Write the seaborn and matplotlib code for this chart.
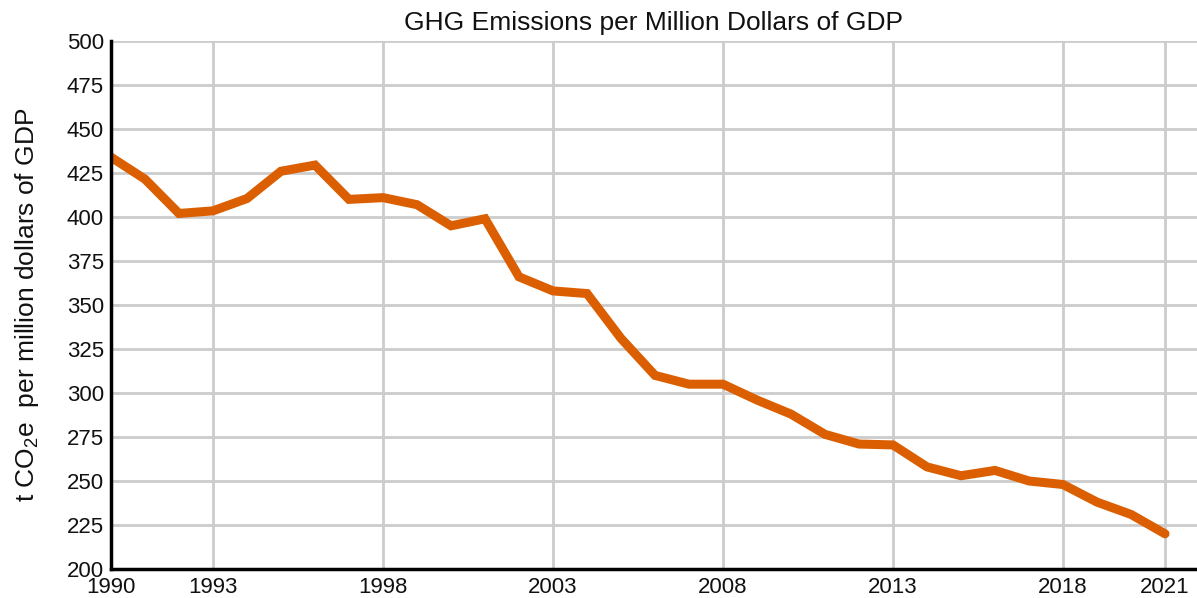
import matplotlib
matplotlib.use("Agg")
import matplotlib.pyplot as plt
import seaborn as sns
import pandas as pd

years = list(range(1990, 2022))
emissions = [434, 421.5, 402, 403.5, 410.5, 426, 429.5, 410, 411, 407, 395, 399,
             366, 358, 356.5, 331, 310, 305, 305, 296, 288, 276.5, 271, 270.5,
             258, 253, 256, 250, 248, 238, 231, 220]
xticks = [1990, 1993, 1998, 2003, 2008, 2013, 2018, 2021]
yticks = list(range(200, 501, 25))

df = pd.DataFrame({"year": years, "value": emissions})

sns.set_theme(style="white")
plt.rcParams['font.family'] = ['Liberation Sans', 'DejaVu Sans']
plt.rcParams['mathtext.fontset'] = 'custom'
plt.rcParams['mathtext.rm'] = 'Liberation Sans'
plt.rcParams['mathtext.it'] = 'Liberation Sans'

fig = plt.figure(figsize=(11.97, 5.98), dpi=100)
ax = fig.add_axes([111/1197, 1 - 569/598, (1197-111)/1197, (569-41)/598])

sns.lineplot(data=df, x="year", y="value", ax=ax, color="#DB5F00", linewidth=6.5,
             solid_joinstyle="miter", zorder=3)

ax.set_xlim(1990, 2021.94)
ax.set_ylim(200, 500)
ax.set_xticks(xticks)
ax.set_yticks(yticks)
ax.set_xticklabels([str(t) for t in xticks], fontsize=16, color="#111111")
ax.set_yticklabels([str(t) for t in yticks], fontsize=16, color="#111111")
ax.grid(True, color="#cccccc", linewidth=2)
ax.set_axisbelow(True)
ax.tick_params(axis="both", length=0)
ax.tick_params(axis="y", pad=5)
ax.tick_params(axis="x", pad=5.5)

for s in ["top", "right"]:
    ax.spines[s].set_visible(False)
for s in ["left", "bottom"]:
    ax.spines[s].set_color("black")
    ax.spines[s].set_linewidth(2.5)
    ax.spines[s].set_zorder(4)

ax.set_xlabel("")
ax.set_ylabel(r"t CO$_\mathrm{2}$e  per million dollars of GDP", fontsize=19, color="#111111")
ax.yaxis.set_label_coords(-0.064, 0.5)
ax.set_title("GHG Emissions per Million Dollars of GDP", fontsize=19, pad=8, color="#111111")

fig.savefig("out.png", dpi=100)
